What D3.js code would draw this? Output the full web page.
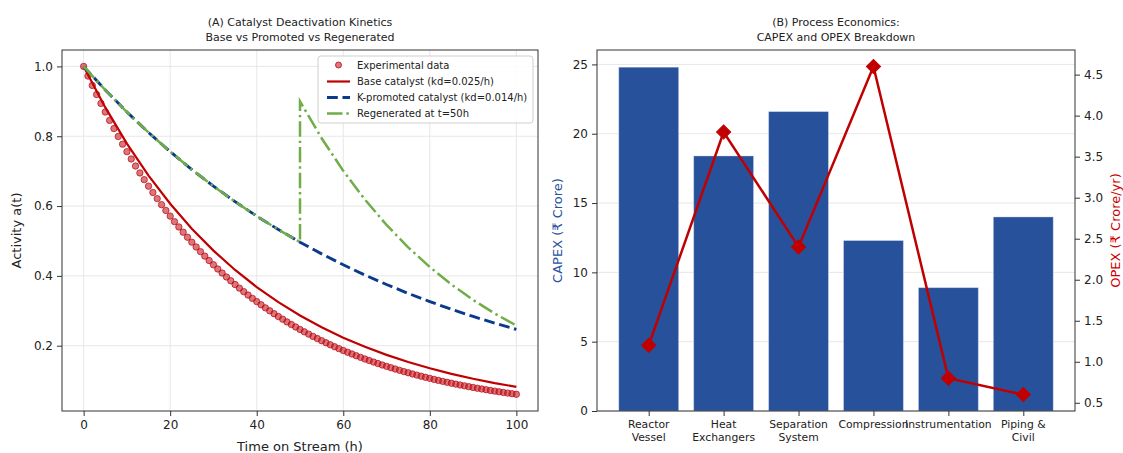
<!DOCTYPE html>
<html><head><meta charset="utf-8">
<script src="https://cdn.jsdelivr.net/npm/d3@7"></script>
<style>
html,body{margin:0;padding:0;background:#fff;}
svg{display:block;font-family:"DejaVu Sans",sans-serif;}
</style></head>
<body><svg id="c" width="1123" height="453"></svg>
<script>
// ---------- DATA (Panel A) ----------
const expTime = d3.range(0, 101, 1);
const expActivity = [1.000,0.9724,0.9455,0.9194,0.8940,0.8694,0.8454,0.8220,0.7993,0.7773,
0.7558,0.7349,0.7146,0.6949,0.6757,0.6570,0.6389,0.6213,0.6041,0.5874,
0.5712,0.5554,0.5401,0.5252,0.5107,0.4966,0.4829,0.4695,0.4566,0.4440,
0.4317,0.4198,0.4082,0.3969,0.3860,0.3753,0.3649,0.3549,0.3451,0.3355,
0.3263,0.3173,0.3085,0.3000,0.2917,0.2837,0.2758,0.2682,0.2608,0.2536,
0.2466,0.2398,0.2332,0.2267,0.2205,0.2144,0.2085,0.2027,0.1971,0.1916,
0.1864,0.1812,0.1762,0.1713,0.1666,0.1620,0.1575,0.1532,0.1490,0.1448,
0.1409,0.1370,0.1332,0.1295,0.1259,0.1225,0.1191,0.1158,0.1126,0.1095,
0.1065,0.1035,0.1007,0.0979,0.0952,0.0926,0.0900,0.0875,0.0851,0.0827,
0.0805,0.0782,0.0761,0.0740,0.0719,0.0699,0.0680,0.0662,0.0643,0.0626,0.0608];
const modelTime = [0,5,10,15,20,25,30,35,40,45,50,55,60,65,70,75,80,85,90,95,100];
const baseActivity = [1.000,0.8825,0.7788,0.6873,0.6065,0.5353,0.4724,0.4169,0.3679,0.3247,
0.2865,0.2528,0.2231,0.1969,0.1738,0.1534,0.1353,0.1194,0.1054,0.0930,0.0821];
const promotedActivity = [1.000,0.9324,0.8694,0.8106,0.7558,0.7047,0.6570,0.6126,0.5712,0.5326,
0.4966,0.4630,0.4317,0.4025,0.3753,0.3499,0.3263,0.3042,0.2837,0.2645,0.2466];
const regenTime = [0,5,10,15,20,25,30,35,40,45,50,50,55,60,65,70,75,80,85,90,95,100];
const regenActivity = [1.000,0.9324,0.8694,0.8106,0.7558,0.7047,0.6570,0.6126,0.5712,0.5326,
0.4966,0.9000,0.7942,0.7009,0.6186,0.5459,0.4818,0.4252,0.3752,0.3311,0.2922,0.2579];
const xTicksA = [0,20,40,60,80,100];
const yTicksA = [0.2,0.4,0.6,0.8,1.0];
const legendLabels = ["Experimental data","Base catalyst (kd=0.025/h)","K-promoted catalyst (kd=0.014/h)","Regenerated at t=50h"];

// ---------- DATA (Panel B) ----------
const categories = ["Reactor\nVessel","Heat\nExchangers","Separation\nSystem","Compression","Instrumentation","Piping &\nCivil"];
const capex = [24.8,18.4,21.6,12.3,8.9,14.0];
const opex = [1.2,3.8,2.4,4.6,0.8,0.6];
const capexTicks = [0,5,10,15,20,25];
const opexTicks = [0.5,1.0,1.5,2.0,2.5,3.0,3.5,4.0,4.5];

// ---------- STYLE ----------
const C = {base:"#c00000", exp:"#c81a1f", expEdge:"#b00010", prom:"#0a3a8c", regen:"#70ad47",
  bar:"#27519b", opex:"#c00000", grid:"#e4e4e4", spine:"#333", text:"#222"};
const svg = d3.select("#c");

// ================= PANEL A =================
const A = {l:62, r:538, t:50, b:411};
const xA = d3.scaleLinear().domain([-5,105]).range([A.l,A.r]);
const yA = d3.scaleLinear().domain([0.013,1.047]).range([A.b,A.t]);
const gA = svg.append("g");
gA.append("g").selectAll("line").data(xTicksA).join("line")
  .attr("x1",d=>xA(d)).attr("x2",d=>xA(d)).attr("y1",A.t).attr("y2",A.b)
  .attr("stroke",C.grid).attr("stroke-width",0.9);
gA.append("g").selectAll("line").data(yTicksA).join("line")
  .attr("y1",d=>yA(d)).attr("y2",d=>yA(d)).attr("x1",A.l).attr("x2",A.r)
  .attr("stroke",C.grid).attr("stroke-width",0.9);
gA.append("g").selectAll("circle").data(expTime).join("circle")
  .attr("cx",(d)=>xA(d)).attr("cy",(d,i)=>yA(expActivity[i])).attr("r",3.2)
  .attr("fill",C.exp).attr("fill-opacity",0.6)
  .attr("stroke",C.expEdge).attr("stroke-opacity",0.75).attr("stroke-width",0.9);
const lineA = d3.line().x(d=>xA(d[0])).y(d=>yA(d[1]));
gA.append("path").datum(modelTime.map((t,i)=>[t,baseActivity[i]])).attr("d",lineA)
  .attr("fill","none").attr("stroke",C.base).attr("stroke-width",2.2);
gA.append("path").datum(modelTime.map((t,i)=>[t,promotedActivity[i]])).attr("d",lineA)
  .attr("fill","none").attr("stroke",C.prom).attr("stroke-width",2.9)
  .attr("stroke-dasharray","10.8,4.7");
gA.append("path").datum(regenTime.map((t,i)=>[t,regenActivity[i]])).attr("d",lineA)
  .attr("fill","none").attr("stroke",C.regen).attr("stroke-width",2.5)
  .attr("stroke-dasharray","15.5,3.9,2.4,3.9");
gA.append("rect").attr("x",A.l).attr("y",A.t).attr("width",A.r-A.l).attr("height",A.b-A.t)
  .attr("fill","none").attr("stroke",C.spine).attr("stroke-width",1);
const axXA = svg.append("g").attr("transform",`translate(0,${A.b})`)
  .call(d3.axisBottom(xA).tickValues(xTicksA).tickFormat(d3.format("d")).tickSize(5).tickPadding(4));
const axYA = svg.append("g").attr("transform",`translate(${A.l},0)`)
  .call(d3.axisLeft(yA).tickValues(yTicksA).tickFormat(d3.format(".1f")).tickSize(5).tickPadding(4));
[axXA,axYA].forEach(a=>{a.select(".domain").remove();
  a.selectAll("line").attr("stroke",C.spine);
  a.selectAll("text").attr("fill",C.text).style("font-size","12px").style("font-family","DejaVu Sans");});
const tA = svg.append("text").attr("x",300).attr("text-anchor","middle").attr("fill",C.text).style("font-size","11px");
tA.append("tspan").attr("x",300).attr("y",26).text("(A) Catalyst Deactivation Kinetics");
tA.append("tspan").attr("x",300).attr("y",41).text("Base vs Promoted vs Regenerated");
svg.append("text").attr("x",300).attr("y",451).attr("text-anchor","middle").attr("fill",C.text)
  .style("font-size","13px").text("Time on Stream (h)");
svg.append("text").attr("transform","translate(21,230.5) rotate(-90)").attr("text-anchor","middle")
  .attr("fill",C.text).style("font-size","13px").text("Activity a(t)");
const L = svg.append("g");
L.append("rect").attr("x",318).attr("y",56).attr("width",215).attr("height",67).attr("rx",3)
  .attr("fill","#fff").attr("fill-opacity",0.85).attr("stroke","#cfcfcf").attr("stroke-width",1);
const rowY = [65,81.5,97.5,113.5];
L.append("circle").attr("cx",338.5).attr("cy",rowY[0]).attr("r",3)
  .attr("fill",C.exp).attr("fill-opacity",0.6).attr("stroke",C.expEdge).attr("stroke-opacity",0.75);
L.append("line").attr("x1",327).attr("x2",350).attr("y1",rowY[1]).attr("y2",rowY[1]).attr("stroke",C.base).attr("stroke-width",2.2);
L.append("line").attr("x1",327).attr("x2",350).attr("y1",rowY[2]).attr("y2",rowY[2]).attr("stroke",C.prom).attr("stroke-width",2.9).attr("stroke-dasharray","10.8,4.7");
L.append("line").attr("x1",327).attr("x2",350).attr("y1",rowY[3]).attr("y2",rowY[3]).attr("stroke",C.regen).attr("stroke-width",2.5).attr("stroke-dasharray","15.5,3.9,2.4,3.9");
L.selectAll("text.lg").data(legendLabels).join("text").attr("class","lg")
  .attr("x",357).attr("y",(d,i)=>rowY[i]+3.6).attr("fill",C.text).style("font-size","10px").text(d=>d);

// ================= PANEL B =================
const B = {l:597, r:1075, t:50, b:411};
const xB = d3.scaleLinear().domain([-0.69,5.69]).range([B.l,B.r]);
const yB = d3.scaleLinear().domain([0,26.04]).range([B.b,B.t]);
const yB2 = d3.scaleLinear().domain([0.4,4.8]).range([B.b,B.t]);
const gB = svg.append("g");
gB.append("g").selectAll("line").data(capexTicks).join("line")
  .attr("y1",d=>yB(d)).attr("y2",d=>yB(d)).attr("x1",B.l).attr("x2",B.r)
  .attr("stroke",C.grid).attr("stroke-width",0.9);
const bw = xB(0.4)-xB(-0.4);
gB.append("g").selectAll("rect").data(capex).join("rect")
  .attr("x",(d,i)=>xB(i-0.4)).attr("width",bw)
  .attr("y",d=>yB(d)).attr("height",d=>yB(0)-yB(d))
  .attr("fill",C.bar).attr("stroke","#ffffff").attr("stroke-opacity",0.35).attr("stroke-width",1);
gB.append("path").datum(opex).attr("d",d3.line().x((d,i)=>xB(i)).y(d=>yB2(d)))
  .attr("fill","none").attr("stroke",C.opex).attr("stroke-width",2.5);
gB.append("g").selectAll("path").data(opex).join("path")
  .attr("d",d3.symbol().type(d3.symbolSquare).size(100))
  .attr("transform",(d,i)=>`translate(${xB(i)},${yB2(d)}) rotate(45)`)
  .attr("fill",C.opex).attr("stroke",C.opex).attr("stroke-width",1);
gB.append("rect").attr("x",B.l).attr("y",B.t).attr("width",B.r-B.l).attr("height",B.b-B.t)
  .attr("fill","none").attr("stroke",C.spine).attr("stroke-width",1);
const axYB = svg.append("g").attr("transform",`translate(${B.l},0)`)
  .call(d3.axisLeft(yB).tickValues(capexTicks).tickFormat(d3.format("d")).tickSize(5).tickPadding(4));
const axYB2 = svg.append("g").attr("transform",`translate(${B.r},0)`)
  .call(d3.axisRight(yB2).tickValues(opexTicks).tickFormat(d3.format(".1f")).tickSize(5).tickPadding(4));
const axXB = svg.append("g").attr("transform",`translate(0,${B.b})`)
  .call(d3.axisBottom(xB).tickValues(d3.range(categories.length)).tickFormat("").tickSize(5));
[axYB,axYB2,axXB].forEach(a=>{a.select(".domain").remove();
  a.selectAll("line").attr("stroke",C.spine);
  a.selectAll("text").attr("fill",C.text).style("font-size","12px").style("font-family","DejaVu Sans");});
const cl = svg.append("g").selectAll("text").data(categories).join("text")
  .attr("text-anchor","middle").attr("fill",C.text).style("font-size","10.8px");
cl.each(function(d,i){
  const parts = d.split("\n");
  const sel = d3.select(this);
  parts.forEach((p,j)=>sel.append("tspan").attr("x",xB(i)).attr("y",428+j*13).text(p));
});
const tB = svg.append("text").attr("text-anchor","middle").attr("fill",C.text).style("font-size","11px");
tB.append("tspan").attr("x",836).attr("y",26).text("(B) Process Economics:");
tB.append("tspan").attr("x",836).attr("y",41).text("CAPEX and OPEX Breakdown");
svg.append("text").attr("transform","translate(562,230.5) rotate(-90)").attr("text-anchor","middle")
  .attr("fill","#2a52a0").style("font-size","13px").text("CAPEX (₹ Crore)");
svg.append("text").attr("transform","translate(1120,230.5) rotate(-90)").attr("text-anchor","middle")
  .attr("fill","#cc0000").style("font-size","13px").text("OPEX (₹ Crore/yr)");
</script></body></html>
